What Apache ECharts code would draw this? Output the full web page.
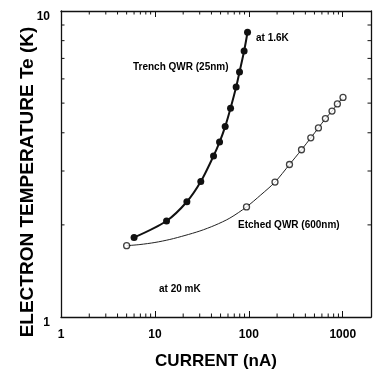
<!DOCTYPE html>
<html>
<head>
<meta charset="utf-8">
<script src="https://cdn.jsdelivr.net/npm/echarts@6/dist/echarts.min.js"></script>
<style>
html,body{margin:0;padding:0;background:#fff;}
#chart{width:373px;height:369px;}
</style>
</head>
<body>
<div id="chart"></div>
<script>
// Trench QWR (filled circles), at 1.6K
var trenchCurrent = [6, 13.3, 21.9, 30.8, 42.1, 48.8, 56, 63.9, 73.3, 79.6, 89.1, 96.9];
var trenchTemp    = [1.82, 2.06, 2.38, 2.77, 3.36, 3.73, 4.19, 4.81, 5.64, 6.32, 7.40, 8.52];
// Etched QWR (open circles), at 20 mK
var etchedCurrent = [5.0, 94.5, 190, 271, 364, 457, 551, 654, 769, 877, 1007];
var etchedTemp    = [1.71, 2.29, 2.76, 3.15, 3.52, 3.85, 4.15, 4.45, 4.71, 4.97, 5.22];
// Fitted curve through etched data
var etchedCurveCurrent = [5.0, 6.92, 10.0, 14.4, 20.9, 30.1, 43.5, 62.8, 94.5, 134, 190, 271, 364, 457, 551, 654, 769, 877, 1007];
var etchedCurveTemp    = [1.71, 1.725, 1.752, 1.792, 1.847, 1.91, 1.994, 2.105, 2.29, 2.505, 2.76, 3.15, 3.52, 3.85, 4.15, 4.45, 4.71, 4.97, 5.22];
// Axis ticks
var xMajorLabels = [1, 10, 100, 1000];
var yMajorLabels = [1, 10];
var xMinorTicks = [2,3,4,5,6,7,8,9,20,30,40,50,60,70,80,90,200,300,400,500,600,700,800,900];
var yMinorTicks = [2,3,4,5,6,7,8,9];

var FONT = 'Liberation Sans, Arial, sans-serif';
var XMIN = 1, XMAX = 2000, YMIN = 1, YMAX = 10;

function zip(a, b) { return a.map(function (v, i) { return [v, b[i]]; }); }

var minorData = xMinorTicks.map(function (v) { return [v, YMIN, 0]; })
  .concat(yMinorTicks.map(function (v) { return [XMIN, v, 1]; }));

var chart = echarts.init(document.getElementById('chart'), null, {renderer: 'canvas'});

var axisLineStyle = {color: '#111', width: 1.3};

chart.setOption({
  animation: false,
  backgroundColor: '#fff',
  grid: {left: 61, right: 2, top: 11, bottom: 52, containLabel: false, outerBoundsMode: 'none'},
  xAxis: [{
    type: 'log', logBase: 10, min: XMIN, max: XMAX, position: 'bottom',
    axisLine: {show: true, lineStyle: axisLineStyle},
    axisTick: {show: true, inside: true, length: 6, lineStyle: {color: '#111', width: 1}},
    axisLabel: {
      show: true, margin: 12, color: '#000', fontFamily: FONT, fontWeight: 'bold', fontSize: 12,
      formatter: function (v) { return xMajorLabels.indexOf(Math.round(v)) >= 0 && Math.abs(v - Math.round(v)) < 1e-6 ? String(Math.round(v)) : ''; }
    },
    splitLine: {show: false},
    name: 'CURRENT (nA)', nameLocation: 'middle', nameGap: 36, nameMoveOverlap: false,
    nameTextStyle: {color: '#000', fontFamily: FONT, fontWeight: 'bold', fontSize: 17}
  }, {
    type: 'log', logBase: 10, min: XMIN, max: XMAX, position: 'top',
    axisLine: {show: true, lineStyle: axisLineStyle},
    axisTick: {show: true, inside: true, length: 6, lineStyle: {color: '#111', width: 1}},
    axisLabel: {show: false}, splitLine: {show: false}
  }],
  yAxis: [{
    type: 'log', logBase: 10, min: YMIN, max: YMAX, position: 'left',
    axisLine: {show: true, lineStyle: axisLineStyle},
    axisTick: {show: true, inside: true, length: 6, lineStyle: {color: '#111', width: 1}},
    axisLabel: {
      show: true, margin: 11, color: '#000', fontFamily: FONT, fontWeight: 'bold', fontSize: 12,
      verticalAlign: 'top', padding: [0, 0, 0, 0],
      formatter: function (v) { var r = Math.round(v); return yMajorLabels.indexOf(r) >= 0 && Math.abs(v - r) < 1e-6 ? String(r) : ''; }
    },
    splitLine: {show: false},
    name: 'ELECTRON TEMPERATURE Te (K)', nameLocation: 'middle', nameGap: 24, nameRotate: 90, nameMoveOverlap: false,
    nameTextStyle: {color: '#000', fontFamily: FONT, fontWeight: 'bold', fontSize: 19, padding: [0, 36, 0, 0]}
  }, {
    type: 'log', logBase: 10, min: YMIN, max: YMAX, position: 'right',
    axisLine: {show: true, lineStyle: axisLineStyle},
    axisTick: {show: true, inside: true, length: 6, lineStyle: {color: '#111', width: 1}},
    axisLabel: {show: false}, splitLine: {show: false}
  }],
  series: [{
    name: 'minorTicks', type: 'custom', xAxisIndex: 0, yAxisIndex: 0, clip: false, silent: true,
    data: minorData,
    renderItem: function (params, api) {
      var v0 = api.value(0), v1 = api.value(1), kind = api.value(2);
      var L = 3.5, a, b;
      var st = {stroke: '#111', lineWidth: 1};
      if (kind === 0) {
        a = api.coord([v0, YMIN]); b = api.coord([v0, YMAX]);
        return {type: 'group', children: [
          {type: 'line', shape: {x1: a[0], y1: a[1], x2: a[0], y2: a[1] - L}, style: st},
          {type: 'line', shape: {x1: b[0], y1: b[1], x2: b[0], y2: b[1] + L}, style: st}
        ]};
      } else {
        a = api.coord([XMIN, v1]); b = api.coord([XMAX, v1]);
        return {type: 'group', children: [
          {type: 'line', shape: {x1: a[0], y1: a[1], x2: a[0] + L, y2: a[1]}, style: st},
          {type: 'line', shape: {x1: b[0], y1: b[1], x2: b[0] - L, y2: b[1]}, style: st}
        ]};
      }
    }
  }, {
    name: 'Etched QWR fit', type: 'line', xAxisIndex: 0, yAxisIndex: 0,
    data: zip(etchedCurveCurrent, etchedCurveTemp),
    smooth: 0.3, showSymbol: false, symbol: 'none',
    lineStyle: {color: '#222', width: 1}, z: 2
  }, {
    name: 'Etched QWR (600nm)', type: 'scatter', xAxisIndex: 0, yAxisIndex: 0,
    data: zip(etchedCurrent, etchedTemp),
    symbol: 'circle', symbolSize: 6,
    itemStyle: {color: '#fff', borderColor: '#111', borderWidth: 1.3}, z: 3
  }, {
    name: 'Trench QWR (25nm)', type: 'line', xAxisIndex: 0, yAxisIndex: 0,
    data: zip(trenchCurrent, trenchTemp),
    smooth: 0.3, symbol: 'circle', symbolSize: 7, showSymbol: true,
    lineStyle: {color: '#111', width: 2},
    itemStyle: {color: '#111', borderColor: '#111', borderWidth: 0}, z: 4
  }],
  graphic: [
    {type: 'text', left: 256, top: 33, style: {text: 'at 1.6K', fill: '#000', font: 'bold 10px ' + FONT}},
    {type: 'text', left: 133, top: 62, style: {text: 'Trench QWR (25nm)', fill: '#000', font: 'bold 10px ' + FONT}},
    {type: 'text', left: 238, top: 220, style: {text: 'Etched QWR (600nm)', fill: '#000', font: 'bold 10px ' + FONT}},
    {type: 'text', left: 159, top: 284, style: {text: 'at 20 mK', fill: '#000', font: 'bold 10px ' + FONT}}
  ]
});
</script>
</body>
</html>
